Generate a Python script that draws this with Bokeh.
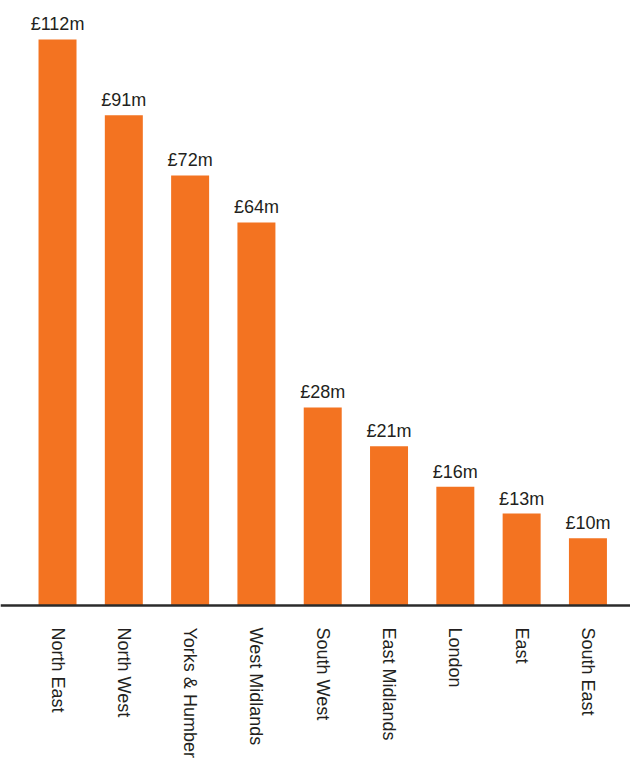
from bokeh.plotting import figure
from bokeh.models import Range1d, Span, ColumnDataSource
from bokeh.core.properties import value
from bokeh.embed import file_html
from bokeh.resources import INLINE

# Data
regions = ["North East", "North West", "Yorks & Humber", "West Midlands", "South West",
           "East Midlands", "London", "East", "South East"]
value_labels = ["£112m", "£91m", "£72m", "£64m", "£28m", "£21m", "£16m", "£13m", "£10m"]
# bar heights as drawn in the reference (in £m-equivalent units, NE = 112)
bar_heights = [112, 97.0, 85.1, 75.8, 39.2, 31.5, 23.5, 18.2, 13.3]

xpos = list(range(len(regions)))
src = ColumnDataSource(dict(x=xpos, top=bar_heights, lab=value_labels, reg=regions,
                            zero=[0] * len(regions)))

W, H = 630, 762
p = figure(width=W, height=H, output_backend="svg", toolbar_location=None,
           x_range=Range1d(-0.86, 8.642), y_range=Range1d(-31.06, 119.7),
           min_border=0, min_border_left=0, min_border_right=0,
           min_border_top=0, min_border_bottom=0)
p.xaxis.visible = False
p.yaxis.visible = False
p.grid.visible = False
p.outline_line_color = None
p.background_fill_color = "white"
p.border_fill_color = "white"

p.vbar(x="x", top="top", bottom=0, width=0.573, source=src,
       fill_color="#F37321", line_color=None)

p.add_layout(Span(location=0, dimension="width", line_color="#2b2b2b", line_width=2.5))

p.text(x="x", y="top", text="lab", source=src, text_align="center",
       text_baseline="alphabetic", y_offset=-15, text_font=value("Liberation Sans"),
       text_font_size="18px", text_color="#231f20")

p.text(x="x", y="zero", text="reg", source=src, angle=-1.5707963, text_align="left",
       text_baseline="middle", y_offset=22, text_font=value("Liberation Sans"),
       text_font_size="18px", text_color="#231f20")

open("out.html", "w").write(file_html(p, INLINE))
